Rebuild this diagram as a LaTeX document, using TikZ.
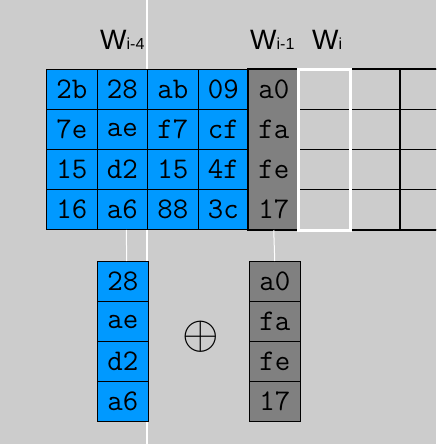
\documentclass[tikz,border=0pt]{standalone}
\usepackage{fontspec}
\newfontfamily\labelfont{Liberation Sans}
\definecolor{bg}{HTML}{CCCCCC}
\definecolor{keyblue}{HTML}{0099FF}
\definecolor{keygray}{HTML}{808080}
\newcommand\wsub[1]{{\fontsize{16}{16}\selectfont #1}}
\begin{document}
\begin{tikzpicture}[x=1pt,y=-1pt,
    cell/.style={draw,line width=1pt,minimum width=50.5pt,minimum height=40pt,
      inner sep=0pt,anchor=north west,font=\fontsize{30}{30}\selectfont\ttfamily},
    bluecell/.style={cell,fill=keyblue},
    graycell/.style={cell,fill=keygray},
    wlabel/.style={anchor=base west,inner sep=0pt,font=\fontsize{28}{28}\selectfont\labelfont}]
  \fill[bg] (0,0) rectangle (436,444);
  \clip (0,0) rectangle (436,444);
  \draw[white,line width=1.5pt] (147,0) -- (147,444);
  % labels
  \node[wlabel] (lw4) at (100,50) {W\wsub{i-4}};
  \node[wlabel] (lw1) at (250,50) {W\wsub{i-1}};
  \node[wlabel] (lw0) at (312,50) {W\wsub{i}};
  % key columns
  \foreach \p/\q/\r/\s [count=\i] in {2b/28/ab/09,7e/ae/f7/cf,15/d2/15/4f,16/a6/88/3c}
    \foreach \t [count=\j] in {\p,\q,\r,\s}
      \node[bluecell] (k\j\i) at ({46+50.5*(\j-1)},{69+40*(\i-1)}) {\t};
  \foreach \t [count=\i] in {a0,fa,fe,17}
    \node[graycell,draw=none] (g\i) at (248,{69+40*(\i-1)}) {\t};
  \foreach \j in {1,2,3}
    \foreach \i in {1,...,4}
      \node[cell] (e\j\i) at ({298.5+50.5*(\j-1)},{69+40*(\i-1)}) {};
  \draw[line width=2pt] (e31.north east) -- (g1.north west) -- (g4.south west) -- (e34.south east);
  \draw[line width=2pt] (e31.north west) -- (e34.south west);
  \draw[white,line width=3pt] (e11.north west) rectangle (e14.south east);
  % lower columns
  \foreach \t [count=\i] in {28,ae,d2,a6}
    \node[bluecell] (lb\i) at (97,{261+40*(\i-1)}) {\t};
  \foreach \t [count=\i] in {a0,fa,fe,17}
    \node[graycell] (lg\i) at (249,{261+40*(\i-1)}) {\t};
  \draw[white,line width=1pt] ([xshift=4pt]k24.south) -- ([xshift=4pt]lb1.north);
  \draw[white,line width=1pt] (g4.south) -- (lg1.north);
  \node[scale=4.7,inner sep=0pt] (xor) at (201,337) {$\oplus$};
\end{tikzpicture}
\end{document}
